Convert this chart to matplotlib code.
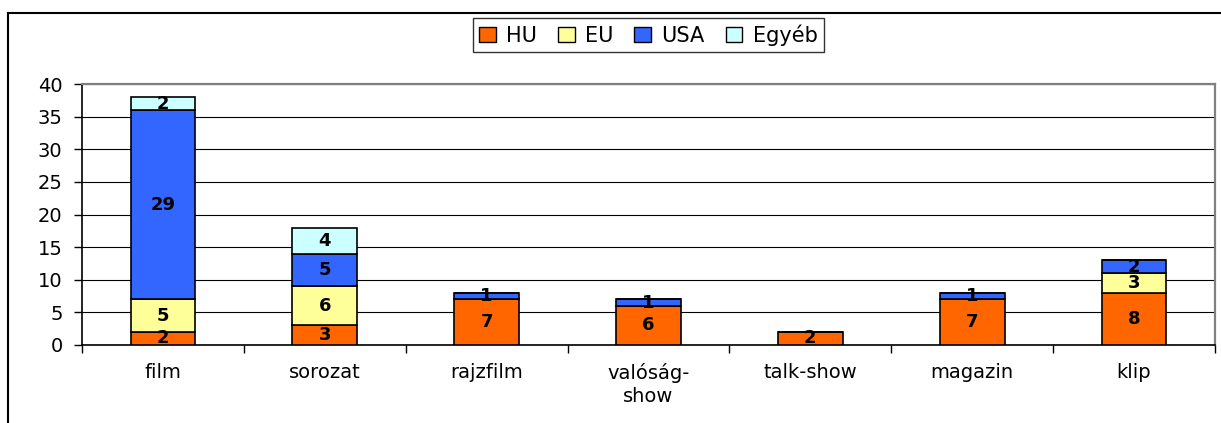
import numpy as np
import matplotlib.pyplot as plt
from matplotlib.lines import Line2D

plt.rcParams['font.family'] = ['DejaVu Sans']

# Data
categories = ['film', 'sorozat', 'rajzfilm', 'valóság-\nshow', 'talk-show', 'magazin', 'klip']
hu = [2, 3, 7, 6, 2, 7, 8]
eu = [5, 6, 0, 0, 0, 0, 3]
usa = [29, 5, 1, 1, 0, 1, 2]
egyeb = [2, 4, 0, 0, 0, 0, 0]

series = [('HU', hu, '#FF6600'), ('EU', eu, '#FFFF99'),
          ('USA', usa, '#3366FF'), ('Egyéb', egyeb, '#CCFFFF')]

fig = plt.figure(figsize=(12.21, 4.23), dpi=100)
ax = fig.add_axes([0.0672, 0.1844, 0.9278, 0.617])

x = np.arange(len(categories))
bottom = np.zeros(len(categories))
handles = []
for name, vals, color in series:
    vals = np.array(vals, dtype=float)
    ax.bar(x, vals, 0.4, bottom=bottom, color=color, edgecolor='black',
           linewidth=1.2, zorder=3)
    for xi, b, v in zip(x, bottom, vals):
        if v > 0:
            ax.text(xi, b + v / 2, f'{int(v)}', ha='center', va='center',
                    fontsize=13, fontweight='bold', zorder=4)
    bottom += vals
    handles.append(plt.Rectangle((0, 0), 1, 1, facecolor=color, edgecolor='black', linewidth=1))

ax.set_xlim(-0.5, len(categories) - 0.5)
ax.set_ylim(0, 40)
ax.set_yticks(range(0, 41, 5))
ax.yaxis.grid(True, color='black', linewidth=0.8, zorder=0)
ax.set_axisbelow(True)

ax.set_xticks(np.arange(-0.5, len(categories), 1.0))
ax.set_xticklabels([])
ax.set_xticks(x, minor=True)
ax.set_xticklabels(categories, minor=True, fontsize=14, linespacing=1.25)
ax.tick_params(axis='x', which='minor', length=0, pad=13)
ax.tick_params(axis='x', which='major', length=6, direction='out', width=1)
ax.tick_params(axis='y', length=6, direction='out', width=1, labelsize=14, pad=8)

ax.spines['left'].set_color('black')
ax.spines['bottom'].set_color('black')
ax.spines['top'].set_color('#808080')
ax.spines['right'].set_color('#808080')
for s in ax.spines.values():
    s.set_linewidth(1.2)
ax.spines['top'].set_linewidth(1.6)
ax.spines['right'].set_linewidth(1.6)

leg = fig.legend(handles, [s[0] for s in series], loc='center', ncol=4,
                 bbox_to_anchor=(0.531, 0.917), fontsize=15, frameon=True,
                 fancybox=False, edgecolor='black', handlelength=0.8,
                 handleheight=0.7, handletextpad=0.5, columnspacing=1.0,
                 borderpad=0.3)
leg.get_frame().set_linewidth(1)

# outer chart border (top and left visible)
fig.add_artist(Line2D([0.0066, 1.0], [0.969, 0.969], color='black', linewidth=1.5,
                      transform=fig.transFigure))
fig.add_artist(Line2D([0.0066, 0.0066], [0.0, 0.969], color='black', linewidth=1.5,
                      transform=fig.transFigure))

fig.savefig('out.png', dpi=100)
